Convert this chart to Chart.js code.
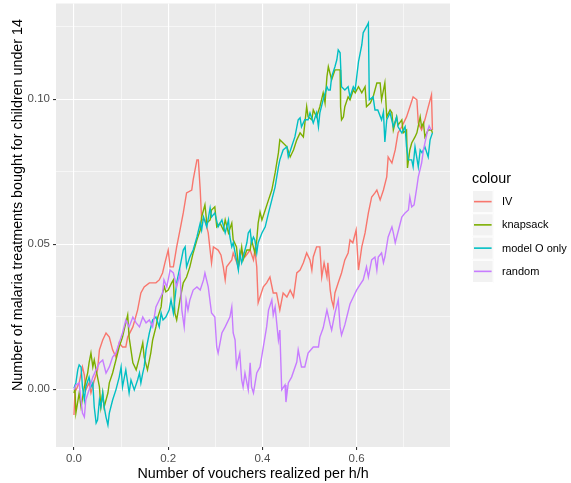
<!DOCTYPE html>
<html><head><meta charset="utf-8">
<script src="https://cdn.jsdelivr.net/npm/chart.js@4/dist/chart.umd.min.js"></script>
<style>html,body{margin:0;padding:0;background:#fff;overflow:hidden}#wrap{width:571px;height:483px}</style>
</head><body><div id="wrap"><canvas id="c" width="571" height="483"></canvas></div>
<script>
const seriesNames = ['IV', 'knapsack', 'model O only', 'random'];
const seriesColors = ['#F8766D', '#7CAE00', '#00BFC4', '#C77CFF'];
const legendTitle = 'colour';
const xTitle = 'Number of vouchers realized per h/h';
const yTitle = 'Number of malaria treatments bought for children under 14';

const xMajor = [0, 0.2, 0.4, 0.6];
const xMajorLabels = ['0.0', '0.2', '0.4', '0.6'];
const xMinor = [0.1, 0.3, 0.5, 0.7];
const yMajor = [0, 0.05, 0.10];
const yMajorLabels = ['0.00', '0.05', '0.10'];
const yMinor = [0.025, 0.075, 0.125];

const ivX = [0,0.002,0.006,0.011,0.018,0.022,0.025,0.032,0.036,0.042,
0.050,0.054,0.061,0.068,0.075,0.082,0.089,0.096,0.103,0.110,
0.114,0.125,0.135,0.142,0.149,0.160,0.174,0.181,0.188,0.193,
0.200,0.204,0.211,0.218,0.225,0.232,0.239,0.250,0.253,0.261,
0.264,0.268,0.271,0.278,0.285,0.289,0.292,0.296,0.306,0.312,
0.317,0.321,0.324,0.335,0.338,0.349,0.356,0.363,0.374,0.381,
0.384,0.388,0.391,0.402,0.409,0.416,0.423,0.430,0.437,0.444,
0.452,0.459,0.466,0.473,0.480,0.487,0.494,0.501,0.505,0.508,
0.515,0.522,0.526,0.531,0.537,0.539,0.544,0.547,0.551,0.554,
0.561,0.568,0.575,0.582,0.586,0.592,0.599,0.604,0.611,0.618,
0.625,0.632,0.639,0.643,0.650,0.657,0.664,0.667,0.675,0.682,
0.688,0.696,0.706,0.713,0.720,0.728,0.731,0.738,0.745,0.752,
0.759,0.761];
const ivY = [-0.0089,-0.0009,0.0004,0.0022,0.0077,0.0049,-0.0002,0.0022,-0.0013,0.0025,
0.0067,0.0136,0.0170,0.0194,0.0180,0.0136,0.0111,0.0160,0.0146,0.0146,
0.0180,0.0215,0.0273,0.0332,0.0353,0.0367,0.0367,0.0377,0.0401,0.0436,
0.0480,0.0422,0.0422,0.0491,0.0549,0.0608,0.0677,0.0687,0.0722,0.0791,
0.0791,0.0687,0.0584,0.0584,0.0539,0.0480,0.0436,0.0491,0.0480,0.0463,
0.0422,0.0377,0.0422,0.0446,0.0470,0.0422,0.0480,0.0456,0.0480,0.0446,
0.0480,0.0422,0.0298,0.0353,0.0367,0.0387,0.0332,0.0332,0.0273,0.0332,
0.0318,0.0342,0.0318,0.0401,0.0411,0.0436,0.0470,0.0446,0.0411,0.0456,
0.0491,0.0491,0.0387,0.0436,0.0387,0.0436,0.0342,0.0308,0.0284,0.0332,
0.0367,0.0401,0.0446,0.0470,0.0515,0.0505,0.0549,0.0411,0.0491,0.0539,
0.0608,0.0663,0.0677,0.0687,0.0653,0.0687,0.0732,0.0801,0.0780,0.0825,
0.0884,0.0905,0.0939,0.0973,0.1008,0.0998,0.0918,0.0894,0.0929,0.0973,
0.1015,0.0894];

const knapX = [0,0.002,0.004,0.011,0.015,0.022,0.029,0.032,0.036,0.040,
0.043,0.047,0.050,0.054,0.057,0.061,0.064,0.072,0.075,0.082,
0.089,0.096,0.103,0.110,0.114,0.117,0.125,0.132,0.139,0.146,
0.149,0.156,0.163,0.167,0.174,0.178,0.185,0.188,0.192,0.195,
0.200,0.207,0.211,0.214,0.218,0.225,0.232,0.239,0.246,0.253,
0.261,0.268,0.271,0.278,0.282,0.289,0.292,0.299,0.303,0.310,
0.317,0.321,0.328,0.335,0.338,0.345,0.349,0.356,0.359,0.367,
0.374,0.377,0.384,0.388,0.391,0.395,0.399,0.406,0.413,0.420,
0.427,0.434,0.437,0.444,0.452,0.459,0.466,0.473,0.480,0.487,
0.494,0.497,0.505,0.508,0.515,0.522,0.529,0.533,0.537,0.540,
0.547,0.554,0.565,0.566,0.568,0.572,0.575,0.582,0.586,0.593,
0.597,0.604,0.611,0.618,0.621,0.629,0.635,0.643,0.650,0.653,
0.660,0.664,0.671,0.675,0.678,0.685,0.688,0.696,0.699,0.706,
0.708,0.713,0.717,0.724,0.728,0.735,0.738,0.742,0.745,0.752,
0.759,0.761];
const knapY = [-0.0013,0.0004,-0.0082,-0.0013,-0.0061,0.0008,0.0056,0.0091,0.0125,0.0077,
0.0101,0.0067,0.0042,0.0008,-0.0061,-0.0013,-0.0061,-0.0013,0.0022,0.0056,
0.0101,0.0146,0.0180,0.0229,0.0256,0.0180,0.0091,0.0067,0.0111,0.0160,
0.0111,0.0067,0.0125,0.0170,0.0215,0.0249,0.0284,0.0332,0.0353,0.0336,
0.0342,0.0366,0.0377,0.0263,0.0239,0.0308,0.0367,0.0387,0.0422,0.0470,
0.0515,0.0549,0.0594,0.0636,0.0573,0.0584,0.0618,0.0629,0.0560,0.0573,
0.0549,0.0584,0.0539,0.0573,0.0515,0.0491,0.0422,0.0491,0.0446,0.0480,
0.0480,0.0515,0.0470,0.0515,0.0573,0.0611,0.0584,0.0618,0.0653,0.0687,
0.0746,0.0815,0.0860,0.0849,0.0836,0.0801,0.0825,0.0860,0.0884,0.0870,
0.0974,0.0939,0.0929,0.0963,0.0939,0.0974,0.1022,0.0987,0.1077,0.1112,
0.1067,0.1101,0.1101,0.0974,0.0929,0.0939,0.0974,0.1008,0.0998,0.1032,
0.1022,0.1043,0.1022,0.1043,0.0974,0.0987,0.1008,0.1056,0.1056,0.0998,
0.1056,0.0939,0.0963,0.0953,0.0894,0.0939,0.0911,0.0929,0.0884,0.0894,
0.0763,0.0825,0.0849,0.0870,0.0884,0.0939,0.0905,0.0918,0.0870,0.0894,
0.0894,0.0884];

const modelOX = [0,0.004,0.008,0.011,0.015,0.018,0.022,0.025,0.032,0.036,
0.040,0.043,0.047,0.050,0.054,0.057,0.061,0.064,0.068,0.072,
0.075,0.082,0.089,0.096,0.100,0.103,0.110,0.114,0.117,0.121,
0.128,0.135,0.139,0.142,0.146,0.149,0.153,0.160,0.167,0.174,
0.181,0.185,0.189,0.195,0.202,0.206,0.211,0.218,0.225,0.232,
0.236,0.239,0.246,0.253,0.261,0.268,0.271,0.275,0.282,0.289,
0.292,0.299,0.306,0.314,0.321,0.328,0.331,0.335,0.338,0.345,
0.349,0.352,0.356,0.363,0.367,0.370,0.374,0.377,0.381,0.384,
0.388,0.391,0.399,0.406,0.413,0.420,0.427,0.434,0.437,0.444,
0.452,0.455,0.462,0.469,0.476,0.480,0.483,0.490,0.497,0.501,
0.508,0.515,0.519,0.522,0.529,0.537,0.540,0.544,0.547,0.554,
0.558,0.561,0.565,0.568,0.575,0.582,0.586,0.593,0.597,0.604,
0.611,0.614,0.621,0.625,0.627,0.635,0.639,0.645,0.653,0.657,
0.660,0.664,0.671,0.678,0.685,0.688,0.696,0.703,0.706,0.710,
0.717,0.720,0.724,0.731,0.735,0.739,0.745,0.752,0.756,0.761];
const modelOY = [0.0004,0.0022,0.0067,0.0084,0.0077,0.0008,-0.0037,0.0008,0.0042,0.0008,
0.0022,-0.0061,-0.0116,-0.0106,-0.0037,-0.0061,-0.0013,-0.0061,-0.0096,-0.0123,
-0.0082,-0.0037,-0.0002,0.0042,0.0077,0.0008,0.0067,0.0022,-0.0013,0.0032,
-0.0002,0.0032,0.0056,0.0022,0.0056,0.0077,0.0136,0.0194,0.0239,0.0249,
0.0215,0.0263,0.0239,0.0249,0.0273,0.0308,0.0263,0.0367,0.0422,0.0480,
0.0491,0.0422,0.0456,0.0480,0.0525,0.0573,0.0549,0.0594,0.0560,0.0625,
0.0594,0.0608,0.0560,0.0584,0.0539,0.0584,0.0525,0.0491,0.0505,0.0446,
0.0411,0.0470,0.0436,0.0480,0.0505,0.0539,0.0549,0.0505,0.0525,0.0515,
0.0470,0.0505,0.0539,0.0560,0.0608,0.0653,0.0698,0.0767,0.0791,0.0825,
0.0836,0.0801,0.0836,0.0870,0.0929,0.0936,0.0905,0.0929,0.0929,0.0953,
0.0918,0.0953,0.0905,0.0953,0.0998,0.1043,0.1032,0.1032,0.1077,0.1112,
0.1136,0.1170,0.1160,0.1043,0.1032,0.1043,0.1008,0.1043,0.1032,0.1129,
0.1187,0.1229,0.1250,0.1263,0.0998,0.1008,0.0963,0.0963,0.0929,0.0956,
0.0853,0.0929,0.0953,0.0905,0.0939,0.0905,0.0884,0.0905,0.0836,0.0791,
0.0791,0.0767,0.0836,0.0767,0.0825,0.0815,0.0836,0.0801,0.0860,0.0884];

const randomX = [0,0.004,0.011,0.018,0.022,0.025,0.032,0.040,0.047,0.054,
0.061,0.068,0.075,0.082,0.089,0.096,0.103,0.110,0.117,0.125,
0.132,0.139,0.146,0.153,0.160,0.167,0.174,0.181,0.188,0.191,
0.197,0.204,0.211,0.218,0.225,0.229,0.234,0.238,0.242,0.246,
0.253,0.261,0.268,0.275,0.278,0.285,0.292,0.299,0.303,0.306,
0.314,0.321,0.331,0.335,0.338,0.342,0.345,0.352,0.356,0.359,
0.363,0.370,0.374,0.377,0.381,0.388,0.395,0.402,0.409,0.413,
0.420,0.423,0.427,0.434,0.437,0.441,0.448,0.450,0.455,0.462,
0.473,0.476,0.483,0.490,0.497,0.508,0.519,0.522,0.529,0.537,
0.544,0.547,0.554,0.561,0.565,0.568,0.575,0.586,0.593,0.600,
0.607,0.614,0.621,0.625,0.632,0.639,0.643,0.646,0.653,0.657,
0.660,0.667,0.675,0.678,0.682,0.689,0.696,0.703,0.710,0.713,
0.717,0.722,0.728,0.731,0.738,0.742,0.745,0.750,0.754,0.758];
const randomY = [-0.0002,0.0015,0.0022,-0.0082,-0.0096,-0.0037,-0.0002,0.0042,0.0067,0.0091,
0.0101,0.0056,0.0077,0.0111,0.0125,0.0160,0.0194,0.0239,0.0215,0.0249,
0.0229,0.0215,0.0249,0.0229,0.0239,0.0215,0.0284,0.0308,0.0332,0.0377,
0.0353,0.0411,0.0401,0.0353,0.0401,0.0273,0.0215,0.0308,0.0273,0.0308,
0.0342,0.0353,0.0342,0.0377,0.0401,0.0353,0.0263,0.0249,0.0146,0.0125,
0.0194,0.0215,0.0249,0.0284,0.0194,0.0170,0.0077,0.0125,0.0032,0.0008,
0.0056,-0.0002,0.0091,0.0008,-0.0013,0.0056,0.0077,0.0146,0.0215,0.0273,
0.0308,0.0256,0.0284,0.0170,0.0204,-0.0002,0.0015,-0.0044,0.0022,0.0042,
0.0094,0.0136,0.0077,0.0077,0.0125,0.0146,0.0146,0.0180,0.0211,0.0273,
0.0222,0.0204,0.0263,0.0308,0.0215,0.0187,0.0222,0.0294,0.0318,0.0342,
0.0360,0.0377,0.0422,0.0387,0.0446,0.0456,0.0411,0.0456,0.0470,0.0436,
0.0456,0.0525,0.0560,0.0539,0.0505,0.0549,0.0594,0.0608,0.0618,0.0663,
0.0629,0.0636,0.0698,0.0732,0.0780,0.0825,0.0849,0.0887,0.0908,0.0894];

const seriesX = [ivX, knapX, modelOX, randomX];
const seriesY = [ivY, knapY, modelOY, randomY];

const FONT = "'Liberation Sans', Arial, Helvetica, sans-serif";

function pts(xs, ys) {
  const n = Math.min(xs.length, ys.length);
  const out = [];
  for (let i = 0; i < n; i++) out.push({x: xs[i], y: ys[i]});
  return out;
}

const datasets = seriesNames.map((name, i) => ({
  label: name,
  data: pts(seriesX[i], seriesY[i]),
  borderColor: seriesColors[i],
  backgroundColor: seriesColors[i],
  borderWidth: 1.4,
  pointRadius: 0,
  pointHoverRadius: 0,
  tension: 0,
  fill: false,
  order: seriesNames.length - i
}));

function isIn(arr, v) { return arr.some(a => Math.abs(a - v) < 1e-9); }

const panelPlugin = {
  id: 'panel',
  beforeDraw(chart) {
    const {ctx, chartArea: a} = chart;
    ctx.save();
    ctx.fillStyle = '#ffffff';
    ctx.fillRect(0, 0, chart.width, chart.height);
    ctx.fillStyle = '#EBEBEB';
    ctx.fillRect(a.left, a.top, a.right - a.left, a.bottom - a.top);
    ctx.restore();
  },
  afterDraw(chart) {
    const {ctx, chartArea: a} = chart;
    ctx.save();
    ctx.fillStyle = '#000000';
    ctx.font = '14.3px ' + FONT;
    ctx.textAlign = 'center';
    ctx.textBaseline = 'alphabetic';
    ctx.fillText(xTitle, (a.left + a.right) / 2, 478);
    ctx.save();
    ctx.translate(22, 205);
    ctx.rotate(-Math.PI / 2);
    ctx.fillText(yTitle, 0, 0);
    ctx.restore();
    // legend
    ctx.textAlign = 'left';
    ctx.fillText(legendTitle, 472, 183);
    const kx = 472, ky = 190, kw = 21.6, kh = 23.25;
    ctx.textBaseline = 'middle';
    seriesNames.forEach((name, i) => {
      const y0 = ky + i * kh;
      ctx.fillStyle = '#F2F2F2';
      ctx.fillRect(kx, y0, kw, kh);
      ctx.strokeStyle = '#ffffff';
      ctx.lineWidth = 1;
      ctx.strokeRect(kx + 0.5, y0 + 0.5, kw - 1, kh - 1);
      ctx.strokeStyle = seriesColors[i];
      ctx.lineWidth = 1.6;
      ctx.beginPath();
      ctx.moveTo(kx + 2, y0 + kh / 2);
      ctx.lineTo(kx + kw - 2, y0 + kh / 2);
      ctx.stroke();
      ctx.fillStyle = '#000000';
      ctx.font = '11px ' + FONT;
      ctx.fillText(name, 502, y0 + kh / 2 + 0.5);
    });
    ctx.restore();
  }
};

new Chart(document.getElementById('c'), {
  type: 'line',
  data: {datasets},
  options: {
    responsive: false,
    animation: false,
    devicePixelRatio: 1,
    layout: {padding: {left: 0, right: 121, top: 3.5, bottom: 0}},
    plugins: {legend: {display: false}, tooltip: {enabled: false}},
    events: [],
    scales: {
      x: {
        type: 'linear',
        min: -0.0382,
        max: 0.7983,
        afterBuildTicks(scale) {
          scale.ticks = xMajor.concat(xMinor).sort((a, b) => a - b).map(v => ({value: v}));
        },
        afterFit(scale) { scale.height = 36; scale.paddingLeft = 0; scale.paddingRight = 0; },
        ticks: {
          autoSkip: false, maxRotation: 0, minRotation: 0, padding: 2,
          color: '#4D4D4D', font: {family: FONT, size: 11.5},
          callback(v) { const k = xMajor.findIndex(m => Math.abs(m - v) < 1e-9); return k >= 0 ? xMajorLabels[k] : ''; }
        },
        grid: {
          color: '#ffffff',
          lineWidth: c => (c.tick && isIn(xMajor, c.tick.value)) ? 1.1 : 0.55,
          tickColor: c => (c.tick && isIn(xMajor, c.tick.value)) ? '#333333' : 'rgba(0,0,0,0)',
          tickLength: 3, drawTicks: true
        },
        border: {display: false}
      },
      y: {
        type: 'linear',
        min: -0.0199,
        max: 0.1330,
        afterBuildTicks(scale) {
          scale.ticks = yMajor.concat(yMinor).sort((a, b) => a - b).map(v => ({value: v}));
        },
        afterFit(scale) { scale.width = 56; scale.paddingTop = 0; scale.paddingBottom = 0; },
        ticks: {
          autoSkip: false, padding: 3,
          color: '#4D4D4D', font: {family: FONT, size: 11.5},
          callback(v) { const k = yMajor.findIndex(m => Math.abs(m - v) < 1e-9); return k >= 0 ? yMajorLabels[k] : ''; }
        },
        grid: {
          color: '#ffffff',
          lineWidth: c => (c.tick && isIn(yMajor, c.tick.value)) ? 1.1 : 0.55,
          tickColor: c => (c.tick && isIn(yMajor, c.tick.value)) ? '#333333' : 'rgba(0,0,0,0)',
          tickLength: 3, drawTicks: true
        },
        border: {display: false}
      }
    }
  },
  plugins: [panelPlugin]
});
</script>
</body></html>
